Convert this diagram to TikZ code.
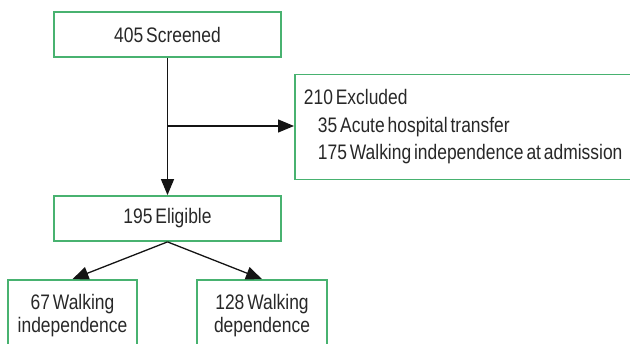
\documentclass[tikz,border=0pt]{standalone}
\usepackage{fontspec}
\setmainfont[FakeStretch=0.83, WordSpace=0.6]{Liberation Sans}
\usepackage{xcolor}
\usepackage{tikz}
\usetikzlibrary{arrows.meta, positioning}
\definecolor{boxgreen}{RGB}{72,178,112}
\definecolor{linedark}{RGB}{20,20,20}
\definecolor{txtdark}{RGB}{40,40,40}
\tikzset{
  flowbox/.style={rectangle, draw=boxgreen, fill=white, line width=1.8pt,
    align=center, text=txtdark, inner sep=0pt,
    font=\fontsize{21}{23}\selectfont},
  exclbox/.style={flowbox, align=left, inner xsep=9pt,
    font=\fontsize{21}{27.5}\selectfont},
  arrow/.style={-{Triangle[length=16pt,width=13pt]}, line width=1.3pt, color=linedark},
  line/.style={line width=1.3pt, color=linedark}
}

\begin{document}
\begin{tikzpicture}[x=1pt, y=-1pt]
  \useasboundingbox (0,0) rectangle (630,344);
  \clip (0,0) rectangle (630,344);

  % Boxes
  \node[flowbox, minimum width=227pt, minimum height=45pt] (screened) at (167.5,34.5) {405 Screened};
  \node[exclbox, minimum height=105pt, anchor=west] (excluded) at (294,127)
    {210 Excluded\\\hspace*{14pt}35 Acute hospital transfer\\\hspace*{14pt}175 Walking independence at admission\hspace*{12pt}};
  \node[flowbox, minimum width=227pt, minimum height=45pt] (eligible) at (167.5,218.5) {195 Eligible};
  \node[flowbox, minimum width=129pt, minimum height=72pt] (indep) at (72.5,316) {67 Walking\\independence};
  \node[flowbox, minimum width=130pt, minimum height=72pt] (dep) at (262,316) {128 Walking\\dependence};

  % Connectors
  \coordinate (branch) at (screened.south |- 0,126);
  \draw[arrow] (screened) -- (eligible);
  \draw[arrow] (branch) -- (branch -| excluded.west);
  \draw[arrow] (eligible.south) -- (indep.north);
  \draw[arrow] (eligible.south) -- (dep.north);
\end{tikzpicture}
\end{document}
